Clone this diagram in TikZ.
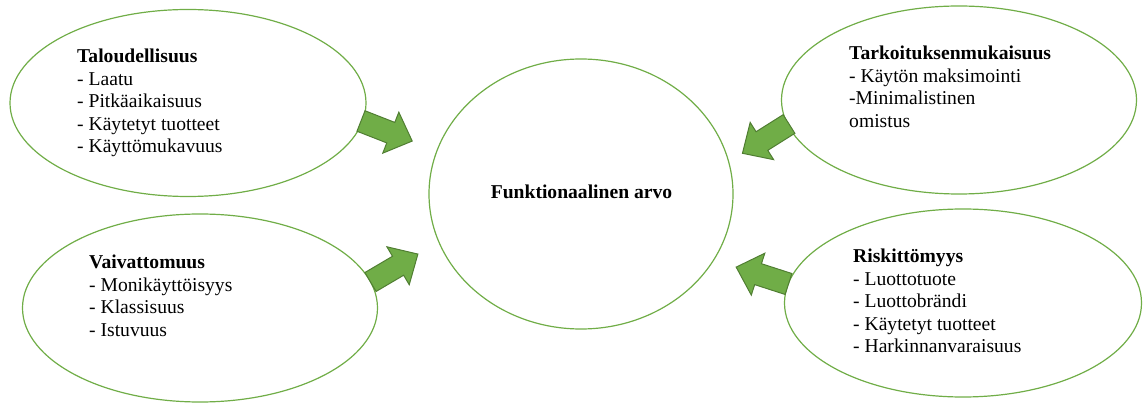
\documentclass[tikz,border=0pt]{standalone}
\usepackage{fontspec}
\setmainfont{Liberation Serif}
\usetikzlibrary{shapes.geometric}
\definecolor{ellgreen}{HTML}{70AD47}
\definecolor{arrfill}{HTML}{70AD47}
\definecolor{arrline}{HTML}{507E32}
\newcommand{\blocktext}[1]{\parbox[t]{270pt}{\fontsize{19.6}{22.4}\selectfont #1}}
\newcommand{\blockarrow}[2]{%
  \begin{scope}[shift={(#1)}, rotate=#2]
    \draw[bigarrow] (0,-11) -- (32,-11) -- (32,-22) -- (55,0) -- (32,22) -- (32,11) -- (0,11) -- cycle;
  \end{scope}}
\begin{document}
\begin{tikzpicture}[x=1pt,y=-1pt,
  bubble/.style={draw=ellgreen, line width=1.2pt, ellipse, inner sep=0pt},
  txtblock/.style={anchor=base west, inner sep=0pt},
  bigarrow/.style={fill=arrfill, draw=arrline, line width=1pt, line join=miter}]
\useasboundingbox (0,0) rectangle (1143,403);
% bubbles
\node[bubble, minimum width=356pt, minimum height=187pt] (eco) at (188,103) {};
\node[bubble, minimum width=355pt, minimum height=188pt] (purp) at (959,100) {};
\node[bubble, minimum width=355pt, minimum height=188pt] (ease) at (200,308) {};
\node[bubble, minimum width=357pt, minimum height=188pt] (risk) at (963,303) {};
\node[bubble, minimum width=304pt, minimum height=270pt] (core) at (581,194) {};
% texts
\node[anchor=base, inner sep=0pt, font=\fontsize{19.6}{22.4}\selectfont\bfseries] (coret) at (581.5,199) {Funktionaalinen arvo};
\node[txtblock] (ecot) at (77,63) {\blocktext{\textbf{Taloudellisuus}\\- Laatu\\- Pitkäaikaisuus\\- Käytetyt tuotteet\\- Käyttömukavuus}};
\node[txtblock] (purpt) at (849,60) {\blocktext{\textbf{Tarkoituksenmukaisuus}\\- Käytön maksimointi\\-Minimalistinen\\omistus}};
\node[txtblock] (easet) at (89,269) {\blocktext{\textbf{Vaivattomuus}\\- Monikäyttöisyys\\- Klassisuus\\- Istuvuus}};
\node[txtblock] (riskt) at (853,263) {\blocktext{\textbf{Riskittömyys}\\- Luottotuote\\- Luottobrändi\\- Käytetyt tuotteet\\- Harkinnanvaraisuus}};
% block arrows
\coordinate (a1) at (361,121);
\coordinate (a2) at (789,124);
\coordinate (a3) at (370.5,282);
\coordinate (a4) at (788.5,284);
\blockarrow{a1}{-21.4}
\blockarrow{a2}{212.2}
\blockarrow{a3}{30.5}
\blockarrow{a4}{162.1}
\end{tikzpicture}
\end{document}
